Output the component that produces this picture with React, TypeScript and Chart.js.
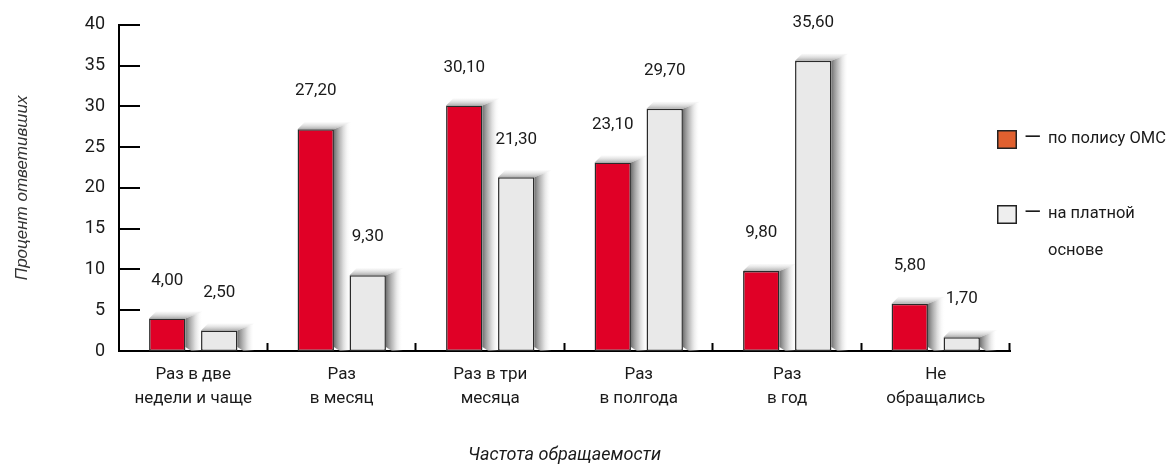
import { useEffect, useRef } from "react";
import { Chart, registerables } from "chart.js";

Chart.register(...registerables);

const categories: string[][] = [
  ["Раз в две", "недели и чаще"],
  ["Раз", "в месяц"],
  ["Раз в три", "месяца"],
  ["Раз", "в полгода"],
  ["Раз", "в год"],
  ["Не", "обращались"],
];
const omsValues = [4.0, 27.2, 30.1, 23.1, 9.8, 5.8];
const paidValues = [2.5, 9.3, 21.3, 29.7, 35.6, 1.7];
const seriesLabels = ["по полису ОМС", "на платной основе"];
const legendLines: string[][] = [["по полису ОМС"], ["на платной", "основе"]];
const yMin = 0;
const yMax = 40;
const yStep = 5;
const yTitle = "Процент ответивших";
const xTitle = "Частота обращаемости";

const FONT = "Roboto";
const barColors = ["#e00026", "#e9e9e9"];
const legendColors = ["#e0602f", "#eeeeee"];

const shadowPlugin = {
  id: "barShadow",
  beforeDatasetsDraw(chart: any) {
    const ctx = chart.ctx;
    chart.data.datasets.forEach((_: any, di: number) => {
      const meta = chart.getDatasetMeta(di);
      meta.data.forEach((el: any) => {
        const { x, y, base, width } = el.getProps(["x", "y", "base", "width"], true);
        const left = x - width / 2;
        const right = x + width / 2;
        const top = y;
        const bottom = base;
        const sw = 17;
        const sh = 7;
        ctx.save();
        const g = ctx.createLinearGradient(right, 0, right + sw, 0);
        g.addColorStop(0, "rgba(105,105,105,0.95)");
        g.addColorStop(0.45, "rgba(175,175,175,0.65)");
        g.addColorStop(1, "rgba(255,255,255,0)");
        ctx.fillStyle = g;
        ctx.beginPath();
        ctx.moveTo(right, top);
        ctx.lineTo(right + sw, top - sh);
        ctx.lineTo(right + sw, bottom);
        ctx.lineTo(right + 6, bottom);
        ctx.lineTo(right, bottom - 4);
        ctx.closePath();
        ctx.fill();
        const g2 = ctx.createLinearGradient(0, top, 0, top - sh);
        g2.addColorStop(0, "rgba(165,165,165,0.9)");
        g2.addColorStop(1, "rgba(235,235,235,0.3)");
        ctx.fillStyle = g2;
        ctx.beginPath();
        ctx.moveTo(left, top);
        ctx.lineTo(left + sh, top - sh);
        ctx.lineTo(right + sw, top - sh);
        ctx.lineTo(right, top);
        ctx.closePath();
        ctx.fill();
        ctx.restore();
      });
    });
  },
  afterDatasetsDraw(chart: any) {
    const ctx = chart.ctx;
    ctx.save();
    ctx.font = `17px ${FONT}`;
    ctx.fillStyle = "#1a1a1a";
    ctx.textAlign = "center";
    ctx.textBaseline = "middle";
    chart.data.datasets.forEach((ds: any, di: number) => {
      const meta = chart.getDatasetMeta(di);
      meta.data.forEach((el: any, i: number) => {
        const v = ds.data[i] as number;
        const txt = v.toFixed(2).replace(".", ",");
        ctx.fillText(txt, el.x, el.y - 38);
      });
    });
    ctx.restore();
  },
  afterDraw(chart: any) {
    const ctx = chart.ctx;
    const area = chart.chartArea;
    const ys = chart.scales.y;
    ctx.save();
    ctx.strokeStyle = "#000";
    ctx.lineWidth = 2;
    for (let v = yMin + yStep; v <= yMax; v += yStep) {
      const py = Math.round(ys.getPixelForValue(v));
      ctx.beginPath();
      ctx.moveTo(area.left, py);
      ctx.lineTo(area.left + 21, py);
      ctx.stroke();
    }
    const n = categories.length;
    const cw = (area.right - area.left) / n;
    for (let i = 1; i <= n; i++) {
      const px = Math.round(area.left + cw * i) - 0.5;
      ctx.beginPath();
      ctx.moveTo(px, area.bottom);
      ctx.lineTo(px, area.bottom - 8);
      ctx.stroke();
    }
    const sqX = 997;
    const sqY = [130, 205];
    ctx.textBaseline = "middle";
    ctx.textAlign = "left";
    legendLines.forEach((lines, i) => {
      ctx.fillStyle = legendColors[i];
      ctx.fillRect(sqX, sqY[i], 19, 18);
      ctx.lineWidth = 1.5;
      ctx.strokeStyle = "#222";
      ctx.strokeRect(sqX + 0.75, sqY[i] + 0.75, 18.5, 17.5);
      ctx.fillStyle = "#1a1a1a";
      const cy = sqY[i] + 8.5;
      ctx.font = `22px ${FONT}`;
      ctx.fillText("—", 1024, cy);
      ctx.font = `16.5px ${FONT}`;
      lines.forEach((ln, li) => {
        ctx.fillText(ln, 1048, cy + li * 37);
      });
    });
    ctx.restore();
  },
};

export default function App() {
  const ref = useRef<HTMLCanvasElement>(null);
  useEffect(() => {
    document.body.style.margin = "0";
    if (!ref.current) return;
    const chart = new Chart(ref.current, {
      type: "bar",
      data: {
        labels: categories,
        datasets: [
          {
            label: seriesLabels[0],
            data: omsValues,
            backgroundColor: barColors[0],
            borderColor: "#2a2a2a",
            borderWidth: 1.5,
            borderSkipped: false,
            categoryPercentage: 0.7,
            barPercentage: 0.7,
          },
          {
            label: seriesLabels[1],
            data: paidValues,
            backgroundColor: barColors[1],
            borderColor: "#2a2a2a",
            borderWidth: 1.5,
            borderSkipped: false,
            categoryPercentage: 0.7,
            barPercentage: 0.7,
          },
        ],
      },
      options: {
        animation: false,
        responsive: false,
        maintainAspectRatio: false,
        layout: { padding: { top: 23, right: 159, left: 0, bottom: 0 } },
        plugins: {
          legend: { display: false },
          tooltip: { enabled: false },
        },
        scales: {
          x: {
            grid: { display: false, drawTicks: false },
            border: { display: true, color: "#000", width: 2 },
            ticks: {
              font: { family: FONT, size: 17, lineHeight: 24 / 17 },
              color: "#1a1a1a",
              padding: 12,
              maxRotation: 0,
              autoSkip: false,
            },
            title: {
              display: true,
              text: xTitle,
              font: { family: FONT, size: 18, style: "italic", lineHeight: 1 },
              color: "#1a1a1a",
              padding: { top: 0, bottom: 0 },
            },
            afterFit: (s: any) => {
              s.height = 113;
            },
          },
          y: {
            min: yMin,
            max: yMax,
            grid: { display: false, drawTicks: false },
            border: { display: true, color: "#000", width: 2 },
            ticks: {
              stepSize: yStep,
              font: { family: FONT, size: 18 },
              color: "#1a1a1a",
              padding: 14,
            },
            title: {
              display: true,
              text: yTitle,
              font: { family: "Liberation Sans", size: 17, style: "italic", lineHeight: 1.2 },
              color: "#333",
              padding: { top: 12, bottom: 0 },
            },
            afterFit: (s: any) => {
              s.width = 119;
            },
          },
        },
      },
      plugins: [shadowPlugin],
    });
    return () => chart.destroy();
  }, []);
  return (
    <div style={{ width: 1169, height: 464 }}>
      <canvas ref={ref} width={1169} height={464} style={{ display: "block" }} />
    </div>
  );
}
